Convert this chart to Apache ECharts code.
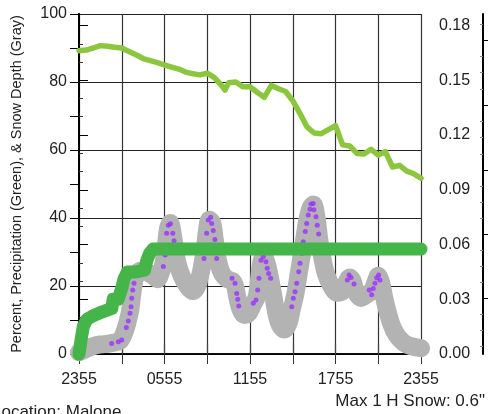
<!DOCTYPE html>
<html>
<head>
<meta charset="utf-8">
<script src="https://cdn.jsdelivr.net/npm/echarts@6/dist/echarts.min.js"></script>
<style>
html,body{margin:0;padding:0;background:#fff;}
#chart{width:492px;height:414px;}
</style>
</head>
<body>
<div id="chart"></div>
<script>
// ---- data (hours after 2355) ----
const xTickHours = [0, 6, 12, 18, 24];
const xTickLabels = ['2355', '0555', '1155', '1755', '2355'];

// Percent (light green)
const rhHours = [0,0.5,1,1.5,2,2.5,3,3.5,4,4.5,5,5.5,6,6.5,7,7.5,8,8.5,9,9.5,10,10.25,10.5,11,11.5,12,12.5,13,13.5,14,14.5,15,15.5,16,16.5,17,17.5,18,18.5,19,19.5,20,20.5,21,21.5,22,22.5,23,23.5,24];
const rhValues = [89.2,89.4,90.0,90.7,90.5,90.2,90.0,89.0,88.0,86.9,86.3,85.7,85.0,84.4,83.8,82.9,82.4,82.1,82.6,81.3,79.0,77.6,79.8,80.0,78.6,78.6,77.0,75.5,79.0,78.0,77.2,74.5,70.8,66.8,65.0,64.8,66.0,67.2,61.5,61.2,59.0,58.8,60.2,58.5,59.5,55.0,55.5,53.8,53.0,51.7];

// Snow depth (gray)
const snowHours = [0,0.5,1,1.5,2,2.5,2.9,3.15,3.35,3.5,3.62,3.72,3.82,3.95,4.3,4.8,5.2,5.5,5.75,5.95,6.1,6.25,6.4,6.55,6.7,6.9,7.2,7.6,8.0,8.3,8.6,8.8,8.97,9.15,9.35,9.5,9.7,10.0,10.4,10.75,10.95,11.1,11.3,11.6,11.9,12.2,12.45,12.6,12.75,12.95,13.15,13.35,13.6,13.85,14.1,14.4,14.7,14.95,15.2,15.45,15.65,15.85,16.05,16.25,16.45,16.65,16.85,17.0,17.3,17.7,18.1,18.5,18.85,19.0,19.2,19.45,19.8,20.2,20.55,20.8,21.0,21.2,21.5,21.9,22.3,22.8,23.3,24];
const snowValues = [0.5,1.5,2.3,2.8,3.0,3.4,4.0,6,8.5,11,13.5,17,20,22.5,24.5,24,23,22,24,27,32,37,38.5,36,32,27,23,20,18.5,20,25,30,36,39.5,38.5,34.5,28.5,24,22,21.5,20,17,13.5,11.5,12,14.5,16.5,20.5,26,28.8,27,23.5,18,12,8.5,7.2,9,13.5,18,24.5,29.5,35,40,43,44,40.5,34,30,24,20,18,18.5,21.8,22.5,21.5,18,16.5,17.5,18.5,21,23,21,15,9,5.5,3.3,2.3,1.7];

// Purple dots
const dotHours = [2.29,2.76,3.0,3.32,3.46,3.58,3.65,3.70,3.77,3.86,5.92,6.04,6.15,6.27,6.42,6.58,6.67,8.77,8.96,9.07,9.24,9.31,9.42,9.54,9.66,10.74,10.95,11.07,11.14,11.21,12.23,12.42,12.54,12.63,12.77,12.93,13.12,13.21,13.31,13.45,14.93,15.04,15.16,15.28,15.42,15.51,15.63,15.74,15.88,15.98,16.09,16.21,16.28,16.44,16.49,16.63,16.72,16.82,18.83,18.95,19.09,19.30,20.37,20.54,20.65,20.77,20.89,21.03,21.12];
const dotValues = [3.1,3.6,4.1,7.8,9.7,12,13.9,16.4,18.8,20.8,25.7,29.1,35.5,37.9,38.3,35.5,33.3,28.1,35.5,39.4,40.2,38.4,36.3,33.7,28.1,22.3,20.8,17.8,16.1,14.1,14.9,15.9,18.8,22.3,27.6,28.6,27.1,25.2,23.7,22.3,13.9,16.4,18.3,20.8,24.2,26.7,29.6,33,36,38.4,40.9,42.6,44.1,44.3,42.4,40.4,37.9,35.3,21.8,23.2,22.5,20.6,18.8,17.4,19.3,20.8,22.4,23.2,21.8];

// Precipitation (dark green, right axis)
const precipHours = [0,0.15,0.3,0.55,1.0,1.6,2.3,2.4,2.75,3.0,3.15,3.4,4.0,4.6,4.75,4.95,5.2,24];
const precipValues = [0,0.008,0.015,0.019,0.021,0.023,0.025,0.030,0.030,0.036,0.041,0.045,0.045,0.046,0.051,0.055,0.0575,0.0575];

// Axis ticks
const rightTickMax = 0.18;
const farRightMajor = [16.5, 35.3, 54.1, 73.2, 92.35];

const zip = (a, b) => a.map((v, i) => [v, b[i]]);
const farRightMinor = [];
for (let i = 0; i < farRightMajor.length - 1; i++) {
  const s = (farRightMajor[i + 1] - farRightMajor[i]) / 4;
  for (let k = 1; k < 4; k++) farRightMinor.push(farRightMajor[i] + s * k);
}
{
  const s = (farRightMajor[1] - farRightMajor[0]) / 4;
  for (let v = farRightMajor[0] - s; v > 0; v -= s) farRightMinor.push(v);
  for (let v = farRightMajor[farRightMajor.length - 1] + s; v < 100; v += s) farRightMinor.push(v);
}

const FONT = 'Liberation Sans, Arial, Helvetica, sans-serif';
const chart = echarts.init(document.getElementById('chart'), null, {renderer: 'canvas'});

const option = {
  animation: false,
  backgroundColor: '#ffffff',
  grid: [
    {left: 79, right: 71, top: 14, bottom: 60},
    {left: 79, right: 71, top: 25.5, bottom: 60}
  ],
  xAxis: [
    {
      gridIndex: 0, type: 'value', min: 0, max: 24, interval: 3, position: 'bottom',
      axisLine: {lineStyle: {color: '#000', width: 1.5}},
      axisTick: {length: 10, lineStyle: {color: '#333', width: 1}},
      axisLabel: {
        margin: 18, fontSize: 16, color: '#222', fontFamily: FONT,
        formatter: v => { const i = xTickHours.indexOf(v); return i >= 0 ? xTickLabels[i] : ''; }
      },
      splitLine: {show: true, lineStyle: {color: '#333', width: 1.2}}
    },
    {
      gridIndex: 0, type: 'value', min: 0, max: 24, interval: 3, position: 'top',
      axisLine: {lineStyle: {color: '#000', width: 1.5}},
      axisTick: {length: 10, lineStyle: {color: '#444', width: 1.2}},
      axisLabel: {show: false},
      splitLine: {show: false}
    },
    {
      gridIndex: 1, type: 'value', min: 0, max: 24, show: false
    }
  ],
  yAxis: [
    {
      gridIndex: 0, type: 'value', min: 0, max: 100, interval: 20, position: 'left',
      name: 'Percent, Precipitation (Green), & Snow Depth (Gray)',
      nameLocation: 'middle', nameGap: 55,
      nameTextStyle: {fontSize: 14.5, color: '#222', fontFamily: FONT},
      axisLine: {show: true, lineStyle: {color: '#000', width: 2}},
      axisTick: {show: true, length: 9, lineStyle: {color: '#000'}},
      minorTick: {show: true, splitNumber: 2, length: 9, lineStyle: {color: '#000'}},
      axisLabel: {margin: 12, fontSize: 16, color: '#222', fontFamily: FONT},
      splitLine: {show: true, lineStyle: {color: '#222', width: 1}}
    },
    {
      gridIndex: 0, type: 'value', min: 0, max: 100, position: 'right',
      axisLine: {show: true, lineStyle: {color: '#000', width: 1.5}},
      axisTick: {show: false}, axisLabel: {show: false}, splitLine: {show: false}
    },
    {
      gridIndex: 1, type: 'value', min: 0, max: rightTickMax, interval: 0.03, position: 'right',
      axisLine: {show: false},
      axisTick: {show: true, length: 9, lineStyle: {color: '#000'}},
      minorTick: {show: true, splitNumber: 3, length: 4, lineStyle: {color: '#333'}},
      axisLabel: {margin: 18, fontSize: 16, color: '#222', fontFamily: FONT, formatter: v => v.toFixed(2)},
      splitLine: {show: false}
    },
    {
      gridIndex: 0, type: 'value', min: 0, max: 100, position: 'right', offset: 62,
      axisLine: {show: true, lineStyle: {color: '#000', width: 2}},
      axisTick: {show: true, length: 5, customValues: farRightMajor, lineStyle: {color: '#000'}},
      axisLabel: {show: false}, splitLine: {show: false}
    },
    {
      gridIndex: 0, type: 'value', min: 0, max: 100, position: 'right', offset: 62,
      axisLine: {show: false},
      axisTick: {show: true, inside: true, length: 3, customValues: farRightMinor, lineStyle: {color: '#888'}},
      axisLabel: {show: false}, splitLine: {show: false}
    }
  ],
  series: [
    {
      name: 'Snow Depth', type: 'line', xAxisIndex: 0, yAxisIndex: 0, z: 2, clip: false,
      data: zip(snowHours, snowValues), showSymbol: false, smooth: 0.3,
      lineStyle: {color: '#b3b3b3', width: 18, cap: 'round', join: 'round'}
    },
    {
      name: 'Dots', type: 'scatter', xAxisIndex: 0, yAxisIndex: 0, z: 3,
      data: zip(dotHours, dotValues), symbolSize: 5,
      itemStyle: {color: '#9b30ff'}
    },
    {
      name: 'Percent', type: 'line', xAxisIndex: 0, yAxisIndex: 0, z: 3, clip: false,
      data: zip(rhHours, rhValues), showSymbol: false,
      lineStyle: {color: '#8cc63f', width: 5.5, cap: 'round', join: 'round'}
    },
    {
      name: 'Precipitation', type: 'line', xAxisIndex: 2, yAxisIndex: 2, z: 4, clip: false,
      data: zip(precipHours, precipValues), showSymbol: false,
      lineStyle: {color: '#45b449', width: 13, cap: 'round', join: 'round'}
    }
  ],
  graphic: [
    {type: 'text', left: -8, top: 404, style: {text: 'Location: Malone', font: '17px ' + FONT, fill: '#222'}},
    {type: 'text', right: 7, top: 393, style: {text: 'Max 1 H Snow: 0.6"', font: '17px ' + FONT, fill: '#222'}}
  ]
};
chart.setOption(option);
</script>
</body>
</html>
